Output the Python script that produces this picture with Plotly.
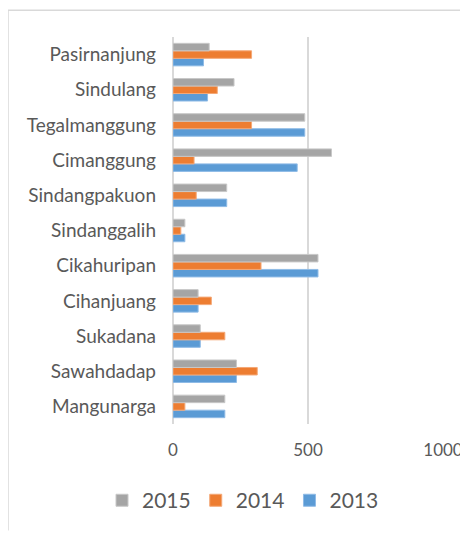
import plotly.graph_objects as go

categories = ["Mangunarga", "Sawahdadap", "Sukadana", "Cihanjuang", "Cikahuripan",
              "Sindanggalih", "Sindangpakuon", "Cimanggung", "Tegalmanggung",
              "Sindulang", "Pasirnanjung"]
v2013 = [192, 235, 101, 93, 537, 44, 199, 460, 488, 128, 113]
v2014 = [44, 312, 192, 142, 326, 29, 86, 78, 291, 164, 291]
v2015 = [192, 235, 101, 93, 537, 44, 199, 587, 488, 226, 134]
x_ticks = [0, 500, 1000]

series = [("2013", v2013, "#5b9bd5", "#8fbbe6"),
          ("2014", v2014, "#ed7d31", "#f4a877"),
          ("2015", v2015, "#a5a5a5", "#c8c8c8")]

fig = go.Figure()
for name, vals, col, edge in series:
    fig.add_trace(go.Bar(y=categories, x=vals, name=name, orientation="h",
                         marker=dict(color=col, line=dict(color=edge, width=1))))

# page coords; the html body has an 8px margin
OFF = 8
PW, PH = 468, 533
PL, PR, PT, PB = 173, 443, 37, 426
W, H = PW - OFF, PH - OFF
pw, ph = PR - PL, PB - PT

def px(x):
    return (x - PL) / pw

def py(y):
    return (PB - y) / ph

fig.update_layout(
    width=W, height=H,
    margin=dict(l=PL - OFF, r=PW - PR, t=PT - OFF, b=PH - PB),
    paper_bgcolor="white", plot_bgcolor="white",
    barmode="group", bargap=0.36, bargroupgap=0,
    font=dict(family="Lato", color="#595959"),
    xaxis=dict(range=[0, 1000], tickvals=x_ticks, showgrid=True,
               gridcolor="#d9d9d9", gridwidth=2, zeroline=True,
               zerolinecolor="#d9d9d9", zerolinewidth=2,
               tickfont=dict(size=17, color="#595959"), ticklabelstandoff=14,
               showline=False, fixedrange=True, automargin=False),
    yaxis=dict(categoryorder="array", categoryarray=categories,
               tickfont=dict(size=19, color="#595959"), ticklabelstandoff=16,
               showgrid=False, showline=False, fixedrange=True, automargin=False),
    legend=dict(orientation="h", traceorder="reversed", x=px(102), xanchor="left",
                y=py(503), yanchor="middle", font=dict(size=21, color="#595959"),
                itemwidth=30),
    showlegend=True,
    shapes=[
        dict(type="line", xref="paper", yref="paper", x0=px(8), x1=px(468),
             y0=py(10), y1=py(10), line=dict(color="#d9d9d9", width=1.5)),
        dict(type="line", xref="paper", yref="paper", x0=px(8), x1=px(8),
             y0=py(10), y1=py(533), line=dict(color="#d9d9d9", width=1.5)),
    ],
)

fig.write_html("out.html")
